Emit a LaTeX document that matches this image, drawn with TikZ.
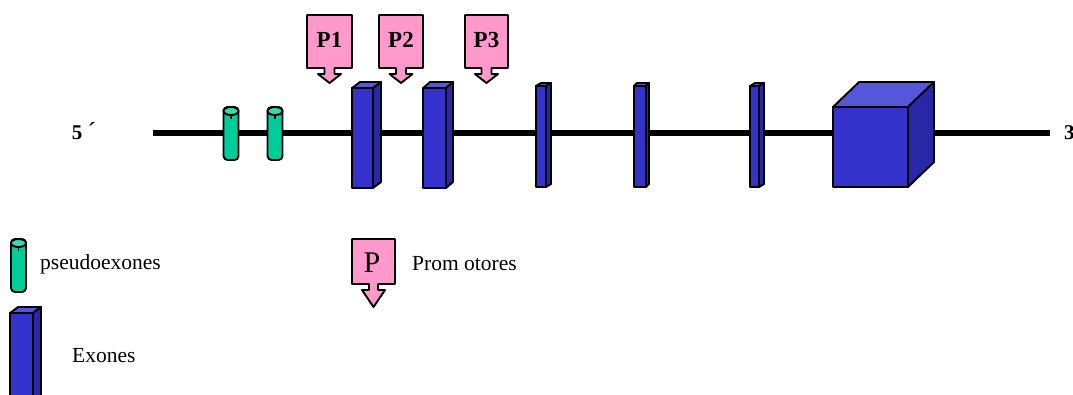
\documentclass[tikz,border=0pt]{standalone}
\usepackage{fontspec}
\setmainfont{Liberation Serif}
\definecolor{exfront}{HTML}{3333CC}
\definecolor{extop}{HTML}{5656DA}
\definecolor{exside}{HTML}{2828A6}
\definecolor{psfill}{HTML}{00CC99}
\definecolor{pscap}{HTML}{33DDB0}
\definecolor{prfill}{HTML}{FF99CC}
\tikzset{
  outline/.style={draw=black, line width=1.9pt, line join=round},
  genline/.style={line width=5.5pt},
  lbl/.style={inner sep=0pt, font=\fontsize{21.5}{22}\selectfont},
  plbl/.style={inner sep=0pt, font=\fontsize{23}{23}\selectfont\bfseries},
  endlbl/.style={inner sep=0pt, font=\fontsize{21}{21}\selectfont\bfseries},
}
% exon block: x-left, x-right, y-top, y-bottom, depth dx, depth dy
\newcommand\exonblock[6]{%
  \filldraw[outline, fill=exfront] (#1,#3) rectangle (#2,#4);
  \filldraw[outline, fill=extop] (#1,#3) -- ++(#5,-#6) -- ++({#2-#1},0) -- (#2,#3) -- cycle;
  \filldraw[outline, fill=exside] (#2,#3) -- ++(#5,-#6) -- ++(0,{#4-#3}) -- (#2,#4) -- cycle;}
% pseudoexon cylinder: x-centre, y-top, y-bottom
\newcommand\pseudoexon[3]{%
  \filldraw[outline, fill=psfill, rounded corners=4pt] ({#1-7.5},#2) rectangle ({#1+7.5},#3);
  \filldraw[outline, fill=pscap] (#1,{#2+4}) ellipse [x radius=7.5, y radius=4];
  \draw[line width=1.6pt] (#1,{#2+8}) -- (#1,{#2+12});}
% promoter flag: x-centre, y-top, y-bottom, half-width, arrow tip y, stem half-width, head half-width
\newcommand\promflag[7]{%
  \filldraw[outline, fill=prfill]
    ({#1-#4},#2) -- ({#1+#4},#2) -- ({#1+#4},#3) -- ({#1+#6},#3) -- ({#1+#6},{#3+6})
    -- ({#1+#7},{#3+6}) -- (#1,#5) -- ({#1-#7},{#3+6}) -- ({#1-#6},{#3+6})
    -- ({#1-#6},#3) -- ({#1-#4},#3) -- cycle;}
\begin{document}
\begin{tikzpicture}[x=1pt, y=-1pt]
  \useasboundingbox (0,0) rectangle (1073,394);
  \clip (0,0) rectangle (1073,394);
  \fill[white] (0,0) rectangle (1073,394);

  % gene backbone
  \coordinate (g5) at (153,133);
  \coordinate (g3) at (1050,133);
  \draw[genline] (g5) -- (g3);
  \node[endlbl, anchor=center] (five) at (77,133) {5};
  \node[inner sep=0pt, font=\fontsize{26}{26}\selectfont] (prime) at (92,131) {´};
  \node[endlbl, anchor=west] (three) at (1064,133) {3};

  % pseudoexons
  \pseudoexon{231}{107}{160}
  \pseudoexon{275}{107}{160}

  % exons
  \exonblock{352}{373}{88}{188}{8}{6}
  \exonblock{423}{446}{88}{188}{7}{6}
  \exonblock{536}{546}{86}{187}{5}{3}
  \exonblock{634}{646}{86}{187}{3}{3}
  \exonblock{750}{759}{86}{187}{5}{3}
  \exonblock{833}{908}{107}{187}{26}{25}

  % promoters
  \promflag{329.5}{15}{68}{22.5}{83}{5}{11.5}
  \node[plbl] (p1) at (329.5,40) {P1};
  \promflag{401}{15}{68}{22}{83}{5}{11.5}
  \node[plbl] (p2) at (401,40) {P2};
  \promflag{486.5}{15}{68}{21.5}{83}{5}{11.5}
  \node[plbl] (p3) at (486.5,40) {P3};

  % legend
  \pseudoexon{18.5}{239}{292}
  \node[lbl, anchor=west] (lps) at (40,264) {pseudoexones};
  \exonblock{10}{33}{313}{420}{8}{6}
  \node[lbl, anchor=west] (lex) at (72,356) {Exones};
  \promflag{373.5}{239}{284}{21.5}{307}{4.5}{11.5}
  \node[inner sep=0pt, font=\fontsize{30}{30}\selectfont] (lp) at (372,263) {P};
  \node[lbl, anchor=west] (lpr) at (412,264) {Prom otores};
\end{tikzpicture}
\end{document}
